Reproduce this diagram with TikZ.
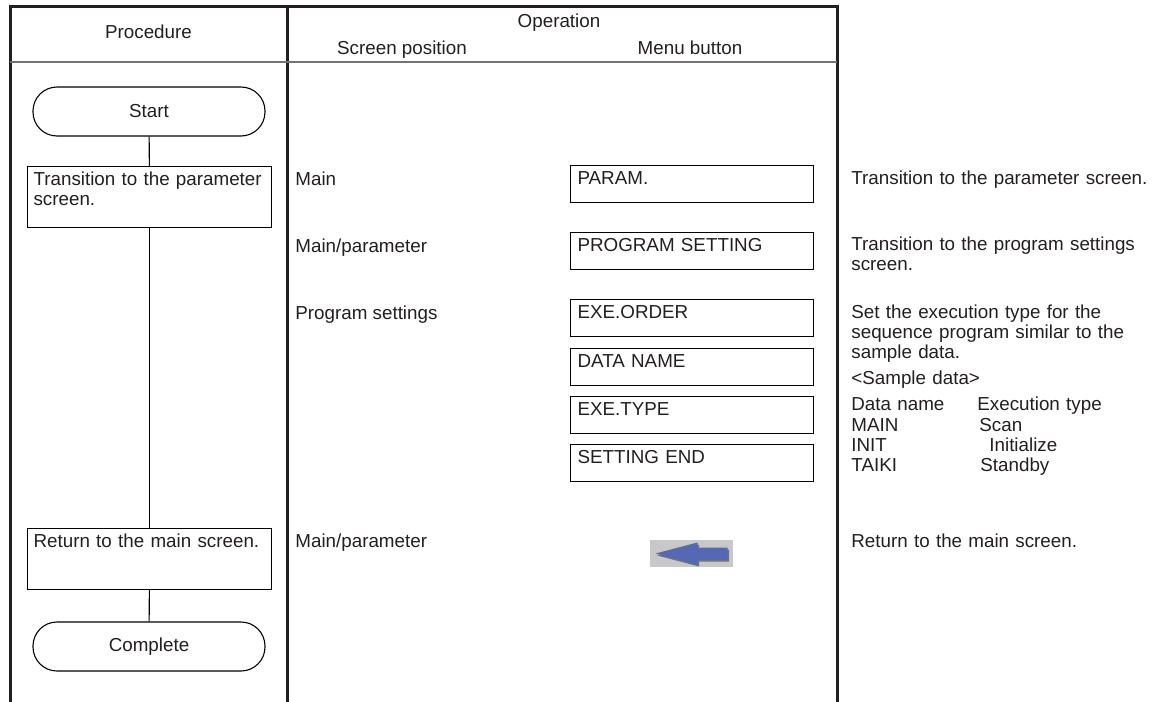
\documentclass[tikz,border=0pt]{standalone}
\usepackage{fontspec}
\setmainfont{Liberation Sans}
\usetikzlibrary{positioning}

\definecolor{inkgray}{HTML}{231F20}
\definecolor{btngray}{HTML}{C8C8C8}
\definecolor{btnblue}{HTML}{5468B4}

\tikzset{
  termbox/.style={draw, rounded corners=12pt, minimum width=116pt, minimum height=24.5pt, line width=0.55pt},
  stepbox/.style={draw, anchor=north west, text width=116pt, align=left, inner xsep=3pt, inner ysep=0pt,
    text height=9.5pt, text depth=21pt, line width=0.55pt},
  menubox/.style={draw, anchor=north west, text width=114.5pt, align=left, inner xsep=3.5pt, inner ysep=0pt,
    text height=9.5pt, text depth=9pt, line width=0.55pt},
  plain/.style={anchor=base west, inner sep=0pt, align=left},
  note/.style={anchor=base west, inner sep=0pt, text width=152pt, align=left},
  rule/.style={line width=1.5pt, inkgray},
}

\begin{document}
\begin{tikzpicture}[x=0.5pt, y=-0.5pt, font=\fontsize{9.4}{10.1}\selectfont, text=inkgray]
  \useasboundingbox (0,0) rectangle (1153,702);

  % table frame
  \draw[rule] (10,702) -- (10,6) -- (837,6) -- (837,702);
  \draw[rule] (287,6) -- (287,702);
  \draw[black!55, line width=0.7pt] (10,62) -- (837,62);

  % header
  \node[anchor=base] (hproc) at (148.5,38) {Procedure};
  \node[anchor=base] (hop) at (559,27) {Operation};
  \node[anchor=base] (hscreen) at (402,54) {Screen position};
  \node[anchor=base] (hmenu) at (690,54) {Menu button};

  % procedure flow
  \node[termbox] (start) at (149,111.5) {Start};
  \node[stepbox] (toparam) at (27,166) {Transition to the parameter\\screen.};
  \node[stepbox] (toreturn) at (27,528) {Return to the main screen.};
  \node[termbox] (complete) at (149,646.5) {Complete};
  \draw[line width=0.55pt] (start) -- (toparam);
  \draw[line width=0.55pt] (toparam) -- (toreturn);
  \draw[line width=0.55pt] (toreturn) -- (complete);

  % screen position
  \node[plain] (posmain) at (295,185) {Main};
  \node[plain] (posparam) at (295,252) {Main/parameter};
  \node[plain] (posprog) at (295,319) {Program settings};
  \node[plain] (posback) at (295,547) {Main/parameter};

  % menu buttons
  \node[menubox] (param) at (570,165) {PARAM.};
  \node[menubox] (progset) at (570,232) {PROGRAM SETTING};
  \node[menubox] (exeorder) at (570,299) {EXE.ORDER};
  \node[menubox] (dataname) at (570,347.5) {DATA NAME};
  \node[menubox] (exetype) at (570,396) {EXE.TYPE};
  \node[menubox] (setend) at (570,444) {SETTING END};

  % back button
  \node[fill=btngray, minimum width=41.5pt, minimum height=13.5pt, inner sep=0pt] (backbtn) at (691.5,553.5) {};
  \begin{scope}[shift={(backbtn.center)}]
    \fill[black!55] (-34.5,2) -- (7.5,-9) -- (7.5,-4) -- (37.5,-4) -- (37.5,8) -- (7.5,8) -- (7.5,13) -- cycle;
    \fill[btnblue] (-36,0) -- (6,-11) -- (6,-6) -- (36,-6) -- (36,6) -- (6,6) -- (6,11) -- cycle;
  \end{scope}

  % notes
  \node[note] (noteparam) at (851,184) {Transition to the parameter screen.};
  \node[note] (noteprog) at (851,250) {Transition to the program settings\\screen.};
  \node[note] (noteexe) at (851,318) {Set the execution type for the\\
    sequence program similar to the\\
    sample data.\\[3pt]
    <Sample data>\\[3pt]
    \makebox[63pt][l]{Data name}Execution type\\
    \makebox[64pt][l]{MAIN}Scan\\
    \makebox[69pt][l]{INIT}Initialize\\
    \makebox[64.5pt][l]{TAIKI}Standby};
  \node[note] (noteback) at (851,547) {Return to the main screen.};
\end{tikzpicture}
\end{document}
